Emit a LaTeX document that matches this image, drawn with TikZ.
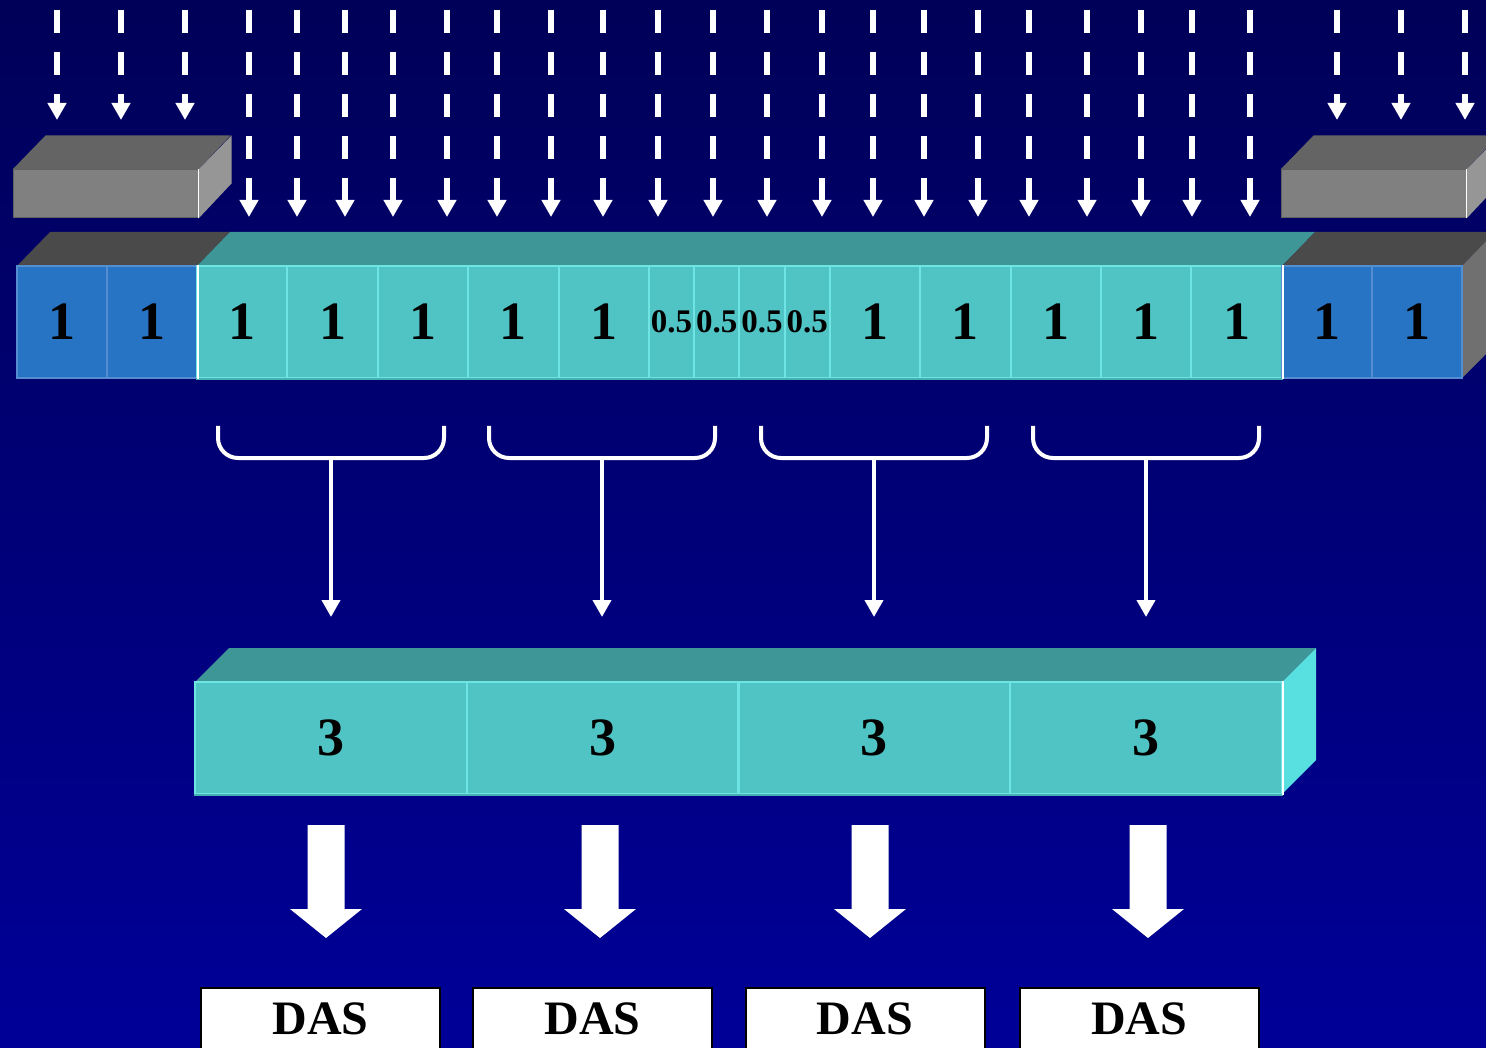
\documentclass[tikz,border=0pt]{standalone}
\usepackage{fontspec}
\setmainfont{Liberation Serif}
\usetikzlibrary{arrows.meta}

\definecolor{bgtop}{RGB}{0,0,88}
\definecolor{bgbot}{RGB}{0,0,152}
\definecolor{tealF}{RGB}{80,196,196}
\definecolor{tealT}{RGB}{62,150,150}
\definecolor{tealL}{RGB}{110,228,228}
\definecolor{tealE}{RGB}{70,176,176}
\definecolor{cyanR}{RGB}{88,224,224}
\definecolor{blueF}{RGB}{40,116,196}
\definecolor{blueL}{RGB}{84,142,208}
\definecolor{darkT}{RGB}{74,74,74}
\definecolor{greyR}{RGB}{112,112,112}
\definecolor{boxF}{RGB}{128,128,128}
\definecolor{boxT}{RGB}{100,100,100}
\definecolor{boxR}{RGB}{150,150,150}
\definecolor{boxE}{RGB}{96,96,96}

\begin{document}
\begin{tikzpicture}[x=1pt,y=-1pt,
  cellbase/.style={rectangle, inner sep=0pt, minimum height=112pt, line width=2pt,
    font=\bfseries\fontsize{54}{54}\selectfont},
  tealcell/.style={cellbase, fill=tealF, draw=tealL},
  bluecell/.style={cellbase, fill=blueF, draw=blueL},
  halfcell/.style={tealcell, font=\bfseries\fontsize{33}{33}\selectfont},
  dashcol/.style={white, line width=6.5pt, dash pattern=on 23pt off 19pt},
  thinarrow/.style={white, line width=6.5pt, -{Triangle[width=18pt,length=17pt]}},
  bracket/.style={white, line width=4pt, rounded corners=20pt},
  stem/.style={white, line width=4pt, -{Triangle[width=18pt,length=17pt]}},
  dasbox/.style={rectangle, fill=white, draw=black, line width=2pt, minimum width=239pt,
    minimum height=100pt, inner sep=0pt},
  dastext/.style={inner sep=0pt, font=\bfseries\fontsize{48}{48}\selectfont},
  blockarrow/.pic={\fill[white] (-18.5,0) -- (18.5,0) -- (18.5,84) -- (36,84) -- (0,113)
    -- (-36,84) -- (-18.5,84) -- cycle;}
]
\useasboundingbox (0,0) rectangle (1486,1048);
\shade[top color=bgtop, bottom color=bgbot] (0,0) rectangle (1486,1048);

% falling dashed arrows
\foreach \x [count=\i] in {57,121,185,1337,1401,1465}{
  \coordinate (ss\i) at (\x,10);
  \coordinate (st\i) at (\x,120);
  \draw[dashcol] (ss\i) -- ++(0,65);
  \draw[thinarrow] (ss\i) ++(0,84) -- (st\i);
}
\foreach \x [count=\i] in {249,297,345,393,447,497,551,603,658,713,767,822,873,924,978,1029,1087,1141,1192,1250}{
  \coordinate (ls\i) at (\x,10);
  \coordinate (lt\i) at (\x,217);
  \draw[dashcol] (ls\i) -- ++(0,149);
  \draw[thinarrow] (ls\i) ++(0,168) -- (lt\i);
}

% grey blocks
\node[rectangle, inner sep=0pt, minimum width=185pt, minimum height=48pt, fill=boxF, draw=boxE, line width=1pt] (gl) at (105.5,194) {};
\fill[boxT] (gl.north west) -- ++(33,-34) -- ++(185,0) -- (gl.north east) -- cycle;
\fill[boxR] (gl.north east) -- ++(33,-34) -- ++(0,48) -- (gl.south east) -- cycle;
\draw[white, line width=1.5pt] (gl.north east) -- (gl.south east);

\node[rectangle, inner sep=0pt, minimum width=185pt, minimum height=48pt, fill=boxF, draw=boxE, line width=1pt] (gr) at (1373.5,194) {};
\fill[boxT] (gr.north west) -- ++(33,-34) -- ++(185,0) -- (gr.north east) -- cycle;
\fill[boxR] (gr.north east) -- ++(33,-34) -- ++(0,48) -- (gr.south east) -- cycle;
\draw[white, line width=1.5pt] (gr.north east) -- (gr.south east);

% upper bar: top faces and right side
\fill[darkT] (17,266) -- (50,232) -- (230,232) -- (197,266) -- cycle;
\fill[tealT] (197,266) -- (230,232) -- (1315,232) -- (1282,266) -- cycle;
\fill[darkT] (1282,266) -- (1315,232) -- (1495,232) -- (1462,266) -- cycle;
\fill[greyR] (1462,266) -- (1495,232) -- (1495,345) -- (1462,378) -- cycle;

% upper bar: cells
\node[bluecell, minimum width=90pt] (m1) at (62,322) {1};
\node[bluecell, minimum width=90pt] (m2) at (152,322) {1};
\node[tealcell, minimum width=90.4pt] (m3) at (242.2,322) {1};
\node[tealcell, minimum width=90.4pt] (m4) at (332.6,322) {1};
\node[tealcell, minimum width=90.4pt] (m5) at (423,322) {1};
\node[tealcell, minimum width=90.4pt] (m6) at (513.4,322) {1};
\node[tealcell, minimum width=90.4pt] (m7) at (603.8,322) {1};
\node[halfcell, minimum width=45.2pt] (m8) at (671.6,322) {0.5};
\node[halfcell, minimum width=45.2pt] (m9) at (716.8,322) {0.5};
\node[halfcell, minimum width=45.2pt] (m10) at (762,322) {0.5};
\node[halfcell, minimum width=45.2pt] (m11) at (807.2,322) {0.5};
\node[tealcell, minimum width=90.4pt] (m12) at (875,322) {1};
\node[tealcell, minimum width=90.4pt] (m13) at (965.4,322) {1};
\node[tealcell, minimum width=90.4pt] (m14) at (1055.8,322) {1};
\node[tealcell, minimum width=90.4pt] (m15) at (1146.2,322) {1};
\node[tealcell, minimum width=90.4pt] (m16) at (1236.6,322) {1};
\node[bluecell, minimum width=90pt] (m17) at (1327,322) {1};
\node[bluecell, minimum width=90pt] (m18) at (1417,322) {1};
\draw[tealE, line width=1.5pt] (m3.south west) -- (m16.south east);
\draw[white, line width=1.5pt] (m2.north east) -- (m2.south east);
\draw[white, line width=1.5pt] (m16.north east) -- (m16.south east);

% grouping brackets with arrows down to the lower bar
\foreach \c [count=\i] in {331,602,874,1146}{
  \draw[bracket] (\c-113,426) -- (\c-113,458) -- (\c+113,458) -- (\c+113,426);
  \coordinate (bk\i) at (\c,458);
  \coordinate (bt\i) at (\c,617);
  \draw[stem] (bk\i) -- (bt\i);
}

% lower bar
\fill[tealT] (195,682) -- (229,648) -- (1316,648) -- (1282,682) -- cycle;
\fill[cyanR] (1282,682) -- (1316,648) -- (1316,760) -- (1282,794) -- cycle;
\node[tealcell, minimum width=271.75pt] (b1) at (330.9,738) {3};
\node[tealcell, minimum width=271.75pt] (b2) at (602.6,738) {3};
\node[tealcell, minimum width=271.75pt] (b3) at (874.4,738) {3};
\node[tealcell, minimum width=271.75pt] (b4) at (1146.1,738) {3};
\draw[tealE, line width=1.5pt] (b1.south west) -- (b4.south east);
\draw[white, line width=1.5pt] (b4.north east) -- (b4.south east);

% block arrows towards the DAS units
\pic (ba1) at (326,825) {blockarrow};
\pic (ba2) at (600,825) {blockarrow};
\pic (ba3) at (870,825) {blockarrow};
\pic (ba4) at (1148,825) {blockarrow};

% DAS units
\node[dasbox, anchor=north] (d1) at (320.5,987) {};
\node[dasbox, anchor=north] (d2) at (592.5,987) {};
\node[dasbox, anchor=north] (d3) at (865,987) {};
\node[dasbox, anchor=north] (d4) at (1139,987) {};
\node[dastext] (d1t) at (320.5,1019) {DAS};
\node[dastext] (d2t) at (592.5,1019) {DAS};
\node[dastext] (d3t) at (865,1019) {DAS};
\node[dastext] (d4t) at (1139,1019) {DAS};
\end{tikzpicture}
\end{document}
